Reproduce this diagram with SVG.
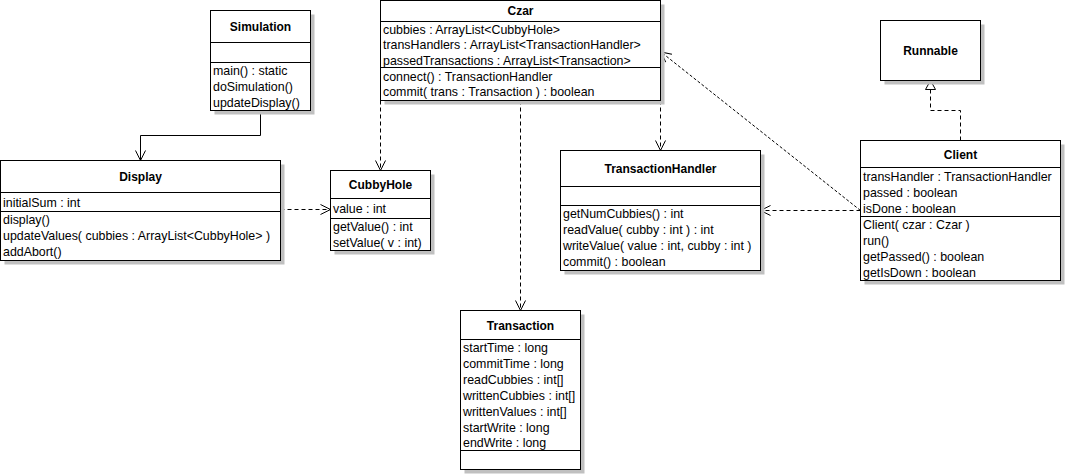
<svg xmlns="http://www.w3.org/2000/svg" width="1065" height="475" viewBox="0 0 1065 475">
<style>
.bg{fill:#ffffff}
.sh{fill:#c0c0c0;stroke:none}
.box{fill:#ffffff;stroke:#000000;stroke-width:1}
.sep{stroke:#000000;stroke-width:1;fill:none}
.t{font-family:"Liberation Sans",Arial,sans-serif;font-size:12.4px;fill:#000000}
.h{font-family:"Liberation Sans",Arial,sans-serif;font-size:12px;font-weight:bold;fill:#000000;text-anchor:middle}
.solid{stroke:#000000;stroke-width:1;fill:none}
.dash{stroke:#000000;stroke-width:1;fill:none;stroke-dasharray:4,3}
.fine{stroke:#000000;stroke-width:1;fill:none;stroke-dasharray:3,2}
.head{stroke:#000000;stroke-width:1;fill:none;stroke-dasharray:none}
.tri{stroke:#000000;stroke-width:1;fill:#ffffff;stroke-dasharray:none}
</style>
<defs>
<marker id="open" markerUnits="userSpaceOnUse" markerWidth="12" markerHeight="12" refX="0" refY="0" orient="auto" overflow="visible">
<path class="head" d="M-10,-5 L0,0 L-10,5"/>
</marker>
<marker id="realize" markerUnits="userSpaceOnUse" markerWidth="12" markerHeight="12" refX="0" refY="0" orient="auto" overflow="visible">
<path class="tri" d="M0,0 L-9,-5 L-9,5 Z"/>
</marker>
</defs>
<rect class="bg" x="0" y="0" width="1065" height="475"/>

<g id="connectors">
<polyline class="solid" points="260.5,110.5 260.5,135.5 140.5,135.5 140.5,160.5" marker-end="url(#open)"/>
<line class="dash" x1="280.5" y1="209.5" x2="330.5" y2="209.5" marker-end="url(#open)"/>
<line class="dash" x1="380.5" y1="100.5" x2="380.5" y2="170.5" marker-end="url(#open)"/>
<line class="dash" x1="660.5" y1="100.5" x2="660.5" y2="150.5" marker-end="url(#open)"/>
<line class="dash" x1="520.5" y1="100.5" x2="520.5" y2="310.5" marker-end="url(#open)"/>
<line class="dash" x1="860.5" y1="210.5" x2="760.5" y2="210.5" marker-end="url(#open)"/>
<line class="fine" x1="860.5" y1="210.5" x2="661" y2="52" marker-end="url(#open)"/>
<polyline class="dash" points="960.5,140.5 960.5,110.5 930.5,110.5 930.5,80.5" marker-end="url(#realize)"/>
</g>

<g id="simulation">
<rect class="sh" x="214.5" y="14.5" width="100" height="100"/>
<rect class="box" x="210.5" y="10.5" width="100" height="100"/>
<line class="sep" x1="210.5" y1="42.5" x2="310.5" y2="42.5"/>
<line class="sep" x1="210.5" y1="62.5" x2="310.5" y2="62.5"/>
<text class="h" x="260.5" y="31">Simulation</text>
<text class="t" x="213" y="75">main() : static</text>
<text class="t" x="213" y="91">doSimulation()</text>
<text class="t" x="213" y="107">updateDisplay()</text>
</g>

<g id="display">
<rect class="sh" x="4.5" y="164.5" width="280" height="100"/>
<rect class="box" x="0.5" y="160.5" width="280" height="100"/>
<line class="sep" x1="0.5" y1="192.5" x2="280.5" y2="192.5"/>
<line class="sep" x1="0.5" y1="211.5" x2="280.5" y2="211.5"/>
<text class="h" x="140.5" y="181">Display</text>
<text class="t" x="3" y="206.5">initialSum : int</text>
<text class="t" x="3" y="224">display()</text>
<text class="t" x="3" y="240">updateValues( cubbies : ArrayList&lt;CubbyHole&gt; )</text>
<text class="t" x="3" y="256">addAbort()</text>
</g>

<g id="cubbyhole">
<rect class="sh" x="334.5" y="174.5" width="100" height="80"/>
<rect class="box" x="330.5" y="170.5" width="100" height="80"/>
<line class="sep" x1="330.5" y1="198.5" x2="430.5" y2="198.5"/>
<line class="sep" x1="330.5" y1="218.5" x2="430.5" y2="218.5"/>
<text class="h" x="380.5" y="189">CubbyHole</text>
<text class="t" x="333" y="213">value : int</text>
<text class="t" x="333" y="231">getValue() : int</text>
<text class="t" x="333" y="247">setValue( v : int)</text>
</g>

<g id="czar">
<rect class="sh" x="384.5" y="4.5" width="280" height="100"/>
<rect class="box" x="380.5" y="0.5" width="280" height="100"/>
<line class="sep" x1="380.5" y1="21.5" x2="660.5" y2="21.5"/>
<line class="sep" x1="380.5" y1="67.5" x2="660.5" y2="67.5"/>
<text class="h" x="520.5" y="15">Czar</text>
<text class="t" x="383" y="33.5">cubbies : ArrayList&lt;CubbyHole&gt;</text>
<text class="t" x="383" y="49">transHandlers : ArrayList&lt;TransactionHandler&gt;</text>
<text class="t" x="383" y="64.5">passedTransactions : ArrayList&lt;Transaction&gt;</text>
<text class="t" x="383" y="80.5">connect() : TransactionHandler</text>
<text class="t" x="383" y="96">commit( trans : Transaction ) : boolean</text>
</g>

<g id="transactionhandler">
<rect class="sh" x="564.5" y="154.5" width="200" height="120"/>
<rect class="box" x="560.5" y="150.5" width="200" height="120"/>
<line class="sep" x1="560.5" y1="186.5" x2="760.5" y2="186.5"/>
<line class="sep" x1="560.5" y1="205.5" x2="760.5" y2="205.5"/>
<text class="h" x="660.5" y="173">TransactionHandler</text>
<text class="t" x="563" y="218">getNumCubbies() : int</text>
<text class="t" x="563" y="234">readValue( cubby : int ) : int</text>
<text class="t" x="563" y="250">writeValue( value : int, cubby : int )</text>
<text class="t" x="563" y="266">commit() : boolean</text>
</g>

<g id="transaction">
<rect class="sh" x="464.5" y="314.5" width="120" height="159"/>
<rect class="box" x="460.5" y="310.5" width="120" height="159"/>
<line class="sep" x1="460.5" y1="339.5" x2="580.5" y2="339.5"/>
<line class="sep" x1="460.5" y1="450.5" x2="580.5" y2="450.5"/>
<text class="h" x="520.5" y="329.5">Transaction</text>
<text class="t" x="463" y="351.5">startTime : long</text>
<text class="t" x="463" y="367.5">commitTime : long</text>
<text class="t" x="463" y="383.5">readCubbies : int[]</text>
<text class="t" x="463" y="399.5">writtenCubbies : int[]</text>
<text class="t" x="463" y="415.5">writtenValues : int[]</text>
<text class="t" x="463" y="431.5">startWrite : long</text>
<text class="t" x="463" y="447">endWrite : long</text>
</g>

<g id="runnable">
<rect class="sh" x="884.5" y="24.5" width="100" height="60"/>
<rect class="box" x="880.5" y="20.5" width="100" height="60"/>
<text class="h" x="930.5" y="55">Runnable</text>
</g>

<g id="client">
<rect class="sh" x="864.5" y="144.5" width="200" height="140"/>
<rect class="box" x="860.5" y="140.5" width="200" height="140"/>
<line class="sep" x1="860.5" y1="167.5" x2="1060.5" y2="167.5"/>
<line class="sep" x1="860.5" y1="216.5" x2="1060.5" y2="216.5"/>
<text class="h" x="960.5" y="159">Client</text>
<text class="t" x="863" y="181">transHandler : TransactionHandler</text>
<text class="t" x="863" y="197">passed : boolean</text>
<text class="t" x="863" y="213">isDone : boolean</text>
<text class="t" x="863" y="229">Client( czar : Czar )</text>
<text class="t" x="863" y="245">run()</text>
<text class="t" x="863" y="261">getPassed() : boolean</text>
<text class="t" x="863" y="277">getIsDown : boolean</text>
</g>
</svg>
